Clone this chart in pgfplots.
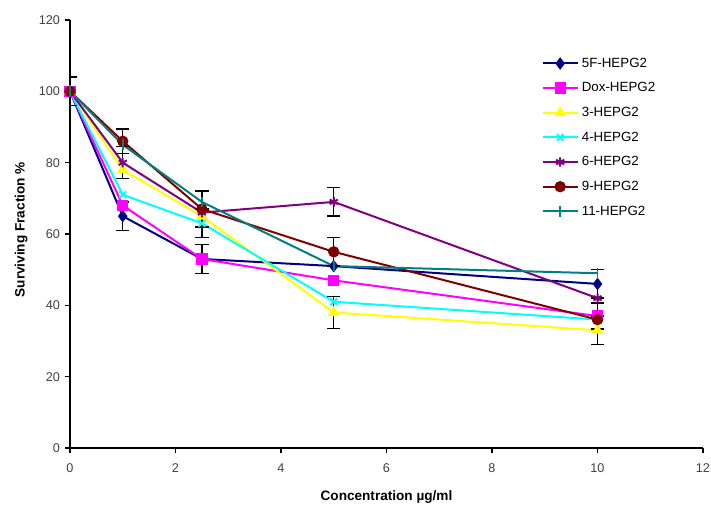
\documentclass[border=0pt]{standalone}
\usepackage{fontspec}
\setmainfont{Liberation Sans}
\usepackage{pgfplots}
\pgfplotsset{compat=1.18}

\definecolor{cNavy}{RGB}{0,0,128}
\definecolor{cMag}{RGB}{255,0,255}
\definecolor{cYel}{RGB}{255,255,0}
\definecolor{cCyan}{RGB}{0,255,255}
\definecolor{cPurp}{RGB}{128,0,128}
\definecolor{cMaroon}{RGB}{128,0,0}
\definecolor{cTeal}{RGB}{0,128,128}

\begin{document}
\begin{tikzpicture}
\begin{axis}[
  scale only axis,
  width=474.75pt, height=321pt,
  xmin=0, xmax=12, ymin=0, ymax=120,
  xtick={0,2,...,12}, ytick={0,20,...,120},
  axis lines=left,
  axis line style={-, line width=1.5pt},
  tick align=outside,
  major tick length=4pt,
  tick style={black, line width=1pt},
  /pgf/number format/assume math mode=true,
  tick label style={font=\fontsize{9.5}{11}\selectfont, text=black!75},
  xticklabel style={yshift=-4pt},
  xlabel={\bfseries Concentration µg/ml},
  ylabel={\bfseries Surviving Fraction \%},
  xlabel style={at={(axis description cs:0.5,-0.115)}, anchor=center, font=\fontsize{10.2}{12}\selectfont},
  ylabel style={at={(axis description cs:-0.077,0.51)}, anchor=center, font=\fontsize{10.2}{12}\selectfont},
  legend style={at={(axis description cs:0.745,0.92)}, anchor=north west,
    draw=none, fill=none, font=\fontsize{10}{12}\selectfont,
    row sep=5pt, inner sep=0pt, nodes={inner sep=2.5pt}},
  legend cell align=left,
  legend image code/.code={\draw[mark repeat=2,mark phase=2,#1] plot coordinates {(0pt,0pt) (13pt,0pt) (26pt,0pt)};},
  every axis plot/.append style={line width=1.5pt},
]
\addplot[cNavy, mark=diamond*, mark size=3.5pt, mark options={solid, fill=cNavy}]
  coordinates {(0,100) (1,65) (2.5,53) (5,51) (10,46)};
\addlegendentry{5F-HEPG2}
\addplot[cMag, mark=square*, mark size=3.5pt, mark options={solid, fill=cMag}]
  coordinates {(0,100) (1,68) (2.5,53) (5,47) (10,37)};
\addlegendentry{Dox-HEPG2}
\addplot[cYel, mark=triangle*, mark size=3.5pt, mark options={solid, fill=cYel}]
  coordinates {(0,100) (1,78) (2.5,65) (5,38) (10,33)};
\addlegendentry{3-HEPG2}
\addplot[cCyan, mark=x, mark size=3.5pt, mark options={solid, line width=1.5pt}]
  coordinates {(0,100) (1,71) (2.5,63) (5,41) (10,36)};
\addlegendentry{4-HEPG2}
\addplot[cPurp, mark=asterisk, mark size=3.5pt, mark options={solid, line width=1.5pt}]
  coordinates {(0,100) (1,80) (2.5,66) (5,69) (10,42)};
\addlegendentry{6-HEPG2}
\addplot[cMaroon, mark=*, mark size=3.5pt, mark options={solid, fill=cMaroon}]
  coordinates {(0,100) (1,86) (2.5,67) (5,55) (10,36)};
\addlegendentry{9-HEPG2}
\addplot[cTeal, mark=|, mark size=4pt, mark options={solid, line width=1.2pt}]
  coordinates {(0,100) (1,85) (2.5,69) (5,51) (10,49)};
\addlegendentry{11-HEPG2}
% error bars
\addplot[forget plot, draw=none, mark=none,
  error bars/.cd, y dir=both, y explicit,
  error bar style={black, line width=1.1pt},
  error mark options={rotate=90, black, mark size=5pt, line width=1.1pt}]
  coordinates {
  (0,100) +- (0,4)
  (1,86) +- (0,3.5)
  (1,80) +- (0,4.5)
  (1,65) +- (0,4)
  (2.5,67) +- (0,5)
  (2.5,63) +- (0,4)
  (2.5,53) +- (0,4)
  (5,69) +- (0,4)
  (5,55) +- (0,4)
  (5,38) +- (0,4.5)
  (10,46) +- (0,4)
  (10,37) +- (0,3.7)
  (10,33) +- (0,4)
  };
\end{axis}
\pgfresetboundingbox
\path[use as bounding box] (-52.5pt,-42pt) rectangle (480.75pt,336pt);
\end{tikzpicture}
\end{document}
